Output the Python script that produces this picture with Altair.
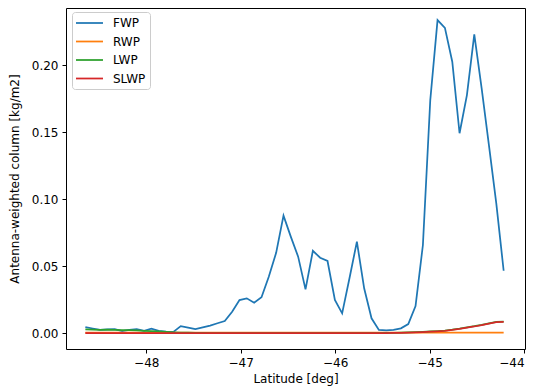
import altair as alt
import pandas as pd

lat = [-48.645, -48.567, -48.489, -48.412, -48.334, -48.256, -48.179, -48.101,
       -48.023, -47.946, -47.868, -47.790, -47.713, -47.635, -47.557, -47.480,
       -47.402, -47.324, -47.246, -47.169, -47.091, -47.013, -46.936, -46.858,
       -46.780, -46.703, -46.625, -46.547, -46.469, -46.392, -46.314, -46.236,
       -46.159, -46.081, -46.003, -45.926, -45.848, -45.770, -45.693, -45.615,
       -45.537, -45.459, -45.382, -45.304, -45.226, -45.149, -45.071, -44.993,
       -44.916, -44.838, -44.760, -44.683, -44.605, -44.527, -44.449, -44.372,
       -44.294, -44.216]

fwp = [0.0047, 0.0036, 0.0025, 0.0030, 0.0032, 0.0017, 0.0026, 0.0032,
       0.0019, 0.0034, 0.0019, 0.0013, 0.0011, 0.0054, 0.0043, 0.0032,
       0.0045, 0.0058, 0.0075, 0.0092, 0.0161, 0.0248, 0.0261, 0.0228,
       0.0269, 0.0422, 0.0601, 0.0878, 0.0720, 0.0572, 0.0328, 0.0616,
       0.0564, 0.0540, 0.0249, 0.0149, 0.0413, 0.0684, 0.0336, 0.0112,
       0.0025, 0.0022, 0.0025, 0.0037, 0.0069, 0.0204, 0.0659, 0.1741,
       0.2338, 0.2280, 0.2027, 0.1493, 0.1778, 0.2231, 0.1828, 0.1405,
       0.0970, 0.0467]

rwp = [0.0006, 0.0006, 0.0006, 0.0006, 0.0006, 0.0006, 0.0006, 0.0006,
       0.0006, 0.0006, 0.0006, 0.0006, 0.0006, 0.0006, 0.0006, 0.0006,
       0.0006, 0.0006, 0.0006, 0.0006, 0.0006, 0.0006, 0.0006, 0.0006,
       0.0006, 0.0006, 0.0006, 0.0006, 0.0006, 0.0006, 0.0006, 0.0006,
       0.0006, 0.0006, 0.0006, 0.0006, 0.0006, 0.0006, 0.0006, 0.0006,
       0.0006, 0.0006, 0.0006, 0.0006, 0.0006, 0.0006, 0.0006, 0.0006,
       0.0006, 0.0006, 0.0006, 0.0006, 0.0006, 0.0006, 0.0006, 0.0006,
       0.0006, 0.0006]

lwp = [0.0030, 0.0028, 0.0026, 0.0027, 0.0025, 0.0024, 0.0023, 0.0022,
       0.0019, 0.0017, 0.0014, 0.0011, 0.0008, 0.0006, 0.0005, 0.0004,
       0.0003, 0.0002, 0.0002, 0.0002, 0.0002, 0.0002, 0.0002, 0.0002,
       0.0002, 0.0002, 0.0002, 0.0002, 0.0002, 0.0002, 0.0002, 0.0002,
       0.0002, 0.0002, 0.0002, 0.0002, 0.0002, 0.0002, 0.0002, 0.0002,
       0.0002, 0.0003, 0.0004, 0.0005, 0.0007, 0.0009, 0.0011, 0.0014,
       0.0017, 0.0021, 0.0027, 0.0035, 0.0045, 0.0053, 0.0063, 0.0075,
       0.0086, 0.0087]

slwp = [0.0001, 0.0001, 0.0001, 0.0001, 0.0001, 0.0001, 0.0001, 0.0001,
        0.0001, 0.0001, 0.0001, 0.0001, 0.0001, 0.0001, 0.0001, 0.0001,
        0.0001, 0.0001, 0.0001, 0.0001, 0.0001, 0.0001, 0.0001, 0.0001,
        0.0001, 0.0001, 0.0001, 0.0001, 0.0001, 0.0001, 0.0001, 0.0001,
        0.0001, 0.0001, 0.0001, 0.0001, 0.0001, 0.0001, 0.0001, 0.0001,
        0.0001, 0.0002, 0.0003, 0.0004, 0.0005, 0.0007, 0.0009, 0.0012,
        0.0015, 0.0019, 0.0025, 0.0033, 0.0043, 0.0051, 0.0061, 0.0073,
        0.0084, 0.0085]

series_names = ["FWP", "RWP", "LWP", "SLWP"]
series_colors = ["#1f77b4", "#ff7f0e", "#2ca02c", "#d62728"]
x_ticks = [-48, -47, -46, -45, -44]
y_ticks = [0.0, 0.05, 0.10, 0.15, 0.20]

rows = []
for name, vals in zip(series_names, [fwp, rwp, lwp, slwp]):
    for la, v in zip(lat, vals):
        rows.append({"lat": la, "value": v, "series": name})
df = pd.DataFrame(rows)

FONT = "DejaVu Sans"

x_enc = alt.X(
    "lat:Q",
    scale=alt.Scale(domain=[-48.85, -43.99], nice=False, zero=False),
    axis=alt.Axis(values=x_ticks, format="d", title="Latitude [deg]",
                  titlePadding=5),
)
y_enc = alt.Y(
    "value:Q",
    scale=alt.Scale(domain=[-0.0117, 0.2428], nice=False, zero=False),
    axis=alt.Axis(values=y_ticks, format=".2f",
                  title="Antenna-weighted column [kg/m2]", titlePadding=10),
)
c_enc = alt.Color(
    "series:N",
    scale=alt.Scale(domain=series_names, range=series_colors),
    legend=alt.Legend(
        title=None, orient="none", legendX=6, legendY=4,
        symbolType="M-1.17,0H3.33", symbolSize=144, symbolStrokeWidth=1.75,
        labelFontSize=12, labelFont=FONT, labelColor="black",
        padding=4, strokeColor="#cccccc", fillColor="white",
        cornerRadius=3, rowPadding=5.5, labelOffset=23,
    ),
)

layers = []
for name in series_names:
    layers.append(
        alt.Chart(df)
        .transform_filter(alt.datum.series == name)
        .mark_line(strokeWidth=1.75)
        .encode(x=x_enc, y=y_enc, color=c_enc)
    )

chart = (
    alt.layer(*layers)
    .properties(width=459, height=341, autosize="none",
                padding={"left": 58, "top": 0, "right": 4, "bottom": 40})
    .configure_view(stroke="black", strokeWidth=1)
    .configure_axis(grid=False, domain=False, tickColor="black", tickSize=4,
                    tickWidth=1, labelColor="black", labelFont=FONT,
                    labelFontSize=12, titleFont=FONT, titleFontSize=12,
                    titleFontWeight="normal", titleColor="black",
                    labelPadding=4)
)

chart.save("out.html", embed_options={"renderer": "svg", "actions": False})
